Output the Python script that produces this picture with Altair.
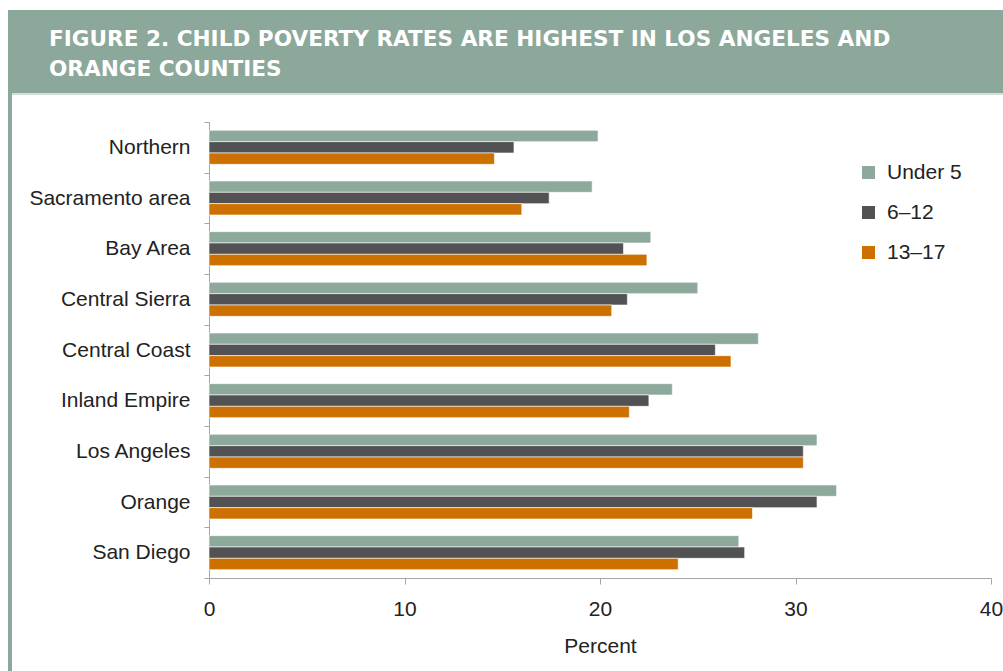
import altair as alt
import pandas as pd

regions = ["Northern", "Sacramento area", "Bay Area", "Central Sierra", "Central Coast",
           "Inland Empire", "Los Angeles", "Orange", "San Diego"]
ages = ["Under 5", "6–12", "13–17"]
under5 = [19.9, 19.6, 22.6, 25.0, 28.1, 23.7, 31.1, 32.1, 27.1]
age6_12 = [15.6, 17.4, 21.2, 21.4, 25.9, 22.5, 30.4, 31.1, 27.4]
age13_17 = [14.6, 16.0, 22.4, 20.6, 26.7, 21.5, 30.4, 27.8, 24.0]
colors = ["#8ca99b", "#525255", "#cc7000"]
title_lines = ["FIGURE 2. CHILD POVERTY RATES ARE HIGHEST IN LOS ANGELES AND",
               "ORANGE COUNTIES"]
x_ticks = [0, 10, 20, 30, 40]

rows = []
for series_name, vals in zip(ages, [under5, age6_12, age13_17]):
    for r, v in zip(regions, vals):
        rows.append({"region": r, "age": series_name, "value": v})
df = pd.DataFrame(rows)
one = pd.DataFrame({"k": [0]})

BANNER = "#8ba89a"
AXIS_GRAY = "#a6a6a6"
FONT = "Liberation Sans"

banner = alt.Chart(one).mark_rect(color=BANNER).encode(
    x=alt.value(-201), x2=alt.value(794), y=alt.value(-112), y2=alt.value(-29))
strip = alt.Chart(one).mark_rect(color="#d5dfd9").encode(
    x=alt.value(-197), x2=alt.value(794), y=alt.value(-29), y2=alt.value(-27))
border = alt.Chart(one).mark_rect(color=BANNER).encode(
    x=alt.value(-201), x2=alt.value(-197), y=alt.value(-29), y2=alt.value(549))
title = alt.Chart(one).mark_text(
    align="left", baseline="alphabetic", font="DejaVu Sans", fontWeight="bold",
    fontSize=21.6, color="white", lineHeight=30
).encode(x=alt.value(-160), y=alt.value(-76), text=alt.value(title_lines))

bars = alt.Chart(df).mark_bar(stroke="white", strokeWidth=0.6).encode(
    x=alt.X("value:Q", scale=alt.Scale(domain=[0, 40], nice=False),
            axis=alt.Axis(values=x_ticks, title="Percent", grid=False, labelFlush=False,
                          domainColor=AXIS_GRAY, tickColor=AXIS_GRAY, tickSize=6,
                          labelFont=FONT, labelFontSize=21, labelColor="#222",
                          labelPadding=14, titleFont=FONT, titleFontSize=21,
                          titleFontWeight="normal", titleColor="#222", titlePadding=16)),
    y=alt.Y("region:N", sort=regions, scale=alt.Scale(paddingInner=0, paddingOuter=0),
            axis=alt.Axis(title=None, tickBand="extent", domainColor=AXIS_GRAY,
                          tickColor=AXIS_GRAY, tickSize=5, labelFont=FONT,
                          labelFontSize=21, labelColor="#222", labelPadding=14)),
    yOffset=alt.YOffset("age:N", sort=ages,
                        scale=alt.Scale(paddingInner=0, paddingOuter=0.735)),
    color=alt.Color("age:N", sort=ages, scale=alt.Scale(domain=ages, range=colors),
                    legend=alt.Legend(title=None, orient="none", legendX=649, legendY=40,
                                      symbolType="square", symbolSize=169,
                                      symbolStrokeWidth=0, symbolOpacity=1,
                                      labelFont=FONT, labelFontSize=21, labelColor="#222",
                                      labelOffset=8, rowPadding=18, padding=0)),
)

chart = alt.layer(banner, strip, border, title, bars).properties(
    width=782, height=456,
    autosize=alt.AutoSizeParams(type="none"),
    padding={"left": 209, "top": 122, "right": 12, "bottom": 93},
).configure_view(stroke=None)

chart.save("out.html", embed_options={"renderer": "svg", "actions": False})
